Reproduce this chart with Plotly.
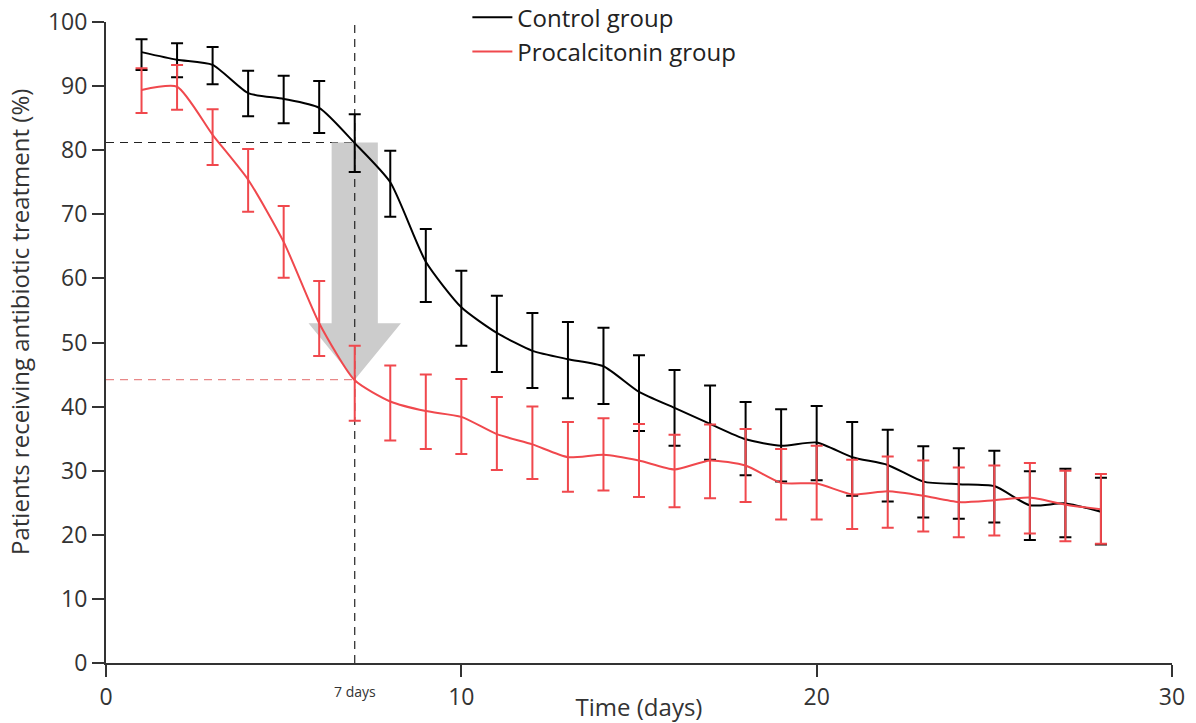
import plotly.graph_objects as go

days = list(range(1, 29))

control_mean = [95.3, 94.1, 93.3, 88.9, 88.0, 86.6, 81.1, 75.0, 62.6, 55.5,
                51.5, 48.7, 47.4, 46.3, 42.3, 39.8, 37.3, 34.9, 33.9, 34.4,
                32.1, 30.9, 28.3, 27.9, 27.6, 24.6, 24.9, 23.6]
control_upper = [97.3, 96.7, 96.1, 92.4, 91.6, 90.8, 85.6, 79.9, 67.7, 61.2,
                 57.3, 54.6, 53.2, 52.3, 48.0, 45.7, 43.3, 40.7, 39.6, 40.1,
                 37.6, 36.4, 33.8, 33.5, 33.1, 29.9, 30.3, 28.9]
control_lower = [92.5, 91.4, 90.3, 85.3, 84.2, 82.7, 76.6, 69.6, 56.3, 49.5,
                 45.4, 42.9, 41.3, 40.4, 36.2, 33.9, 31.7, 29.3, 28.3, 28.5,
                 26.1, 25.2, 22.7, 22.5, 21.9, 19.2, 19.6, 18.5]

pct_mean = [89.4, 89.9, 82.4, 75.4, 65.7, 53.0, 44.1, 40.8, 39.3, 38.4,
            35.7, 34.1, 32.1, 32.5, 31.6, 30.2, 31.6, 30.8, 28.1, 28.0,
            26.3, 26.8, 26.1, 25.1, 25.4, 25.8, 24.7, 24.0]
pct_upper = [92.8, 93.3, 86.4, 80.2, 71.3, 59.6, 49.5, 46.4, 45.0, 44.3,
             41.5, 40.0, 37.6, 38.2, 37.3, 35.6, 37.2, 36.5, 33.4, 33.9,
             31.7, 32.2, 31.6, 30.5, 30.8, 31.2, 30.0, 29.5]
pct_lower = [85.8, 86.3, 77.7, 70.4, 60.1, 47.9, 37.8, 34.7, 33.4, 32.6,
             30.1, 28.7, 26.7, 26.9, 25.9, 24.3, 25.7, 25.1, 22.4, 22.4,
             20.9, 21.1, 20.5, 19.6, 19.9, 20.2, 19.0, 18.6]

series_names = ["Control group", "Procalcitonin group"]
y_ticks = list(range(0, 101, 10))
x_ticks = [0, 10, 20, 30]
cutoff_day = 7
control_at_cutoff = 81.2
pct_at_cutoff = 44.2
y_title = "Patients receiving antibiotic treatment (%)"
x_title = "Time (days)"

BLACK = "#000000"
RED = "#f0484d"
AXIS = "#333333"
FONT = "Open Sans"

fig = go.Figure()

for name, mean, up, lo, col in [
    (series_names[0], control_mean, control_upper, control_lower, BLACK),
    (series_names[1], pct_mean, pct_upper, pct_lower, RED),
]:
    fig.add_trace(go.Scatter(
        x=days, y=mean, name=name, mode="lines",
        line=dict(color=col, width=2, shape="spline", smoothing=0.6),
        error_y=dict(type="data", symmetric=False,
                     array=[u - m for u, m in zip(up, mean)],
                     arrayminus=[m - l for m, l in zip(mean, lo)],
                     color=col, thickness=2, width=6),
    ))

shapes = [
    dict(type="line", xref="x", yref="y", x0=0, x1=cutoff_day,
         y0=control_at_cutoff, y1=control_at_cutoff,
         line=dict(color="#222222", width=1.2, dash="8px,6px"), layer="below"),
    dict(type="line", xref="x", yref="y", x0=0, x1=cutoff_day,
         y0=pct_at_cutoff, y1=pct_at_cutoff,
         line=dict(color="#e88888", width=1.2, dash="8px,6px"), layer="below"),
    dict(type="path", xref="x", yref="y",
         path=(f"M {cutoff_day-0.65},{control_at_cutoff} L {cutoff_day+0.65},{control_at_cutoff} "
               f"L {cutoff_day+0.65},53 L {cutoff_day+1.3},53 L {cutoff_day},{pct_at_cutoff} "
               f"L {cutoff_day-1.3},53 L {cutoff_day-0.65},53 Z"),
         fillcolor="#cccccc", line=dict(width=0), layer="below"),
    dict(type="line", xref="x", yref="y", x0=cutoff_day, x1=cutoff_day,
         y0=0, y1=100,
         line=dict(color="#222222", width=1.2, dash="8px,6px"), layer="below"),
]

fig.update_layout(
    width=1196, height=723,
    margin=dict(l=106, r=24, t=22, b=60, autoexpand=False),
    paper_bgcolor="white", plot_bgcolor="white",
    font=dict(family=FONT, color=AXIS, size=20),
    shapes=shapes,
    showlegend=True,
    legend=dict(x=0.339, y=1.042, xref="paper", yref="paper",
                xanchor="left", yanchor="top",
                bgcolor="rgba(0,0,0,0)", font=dict(size=24, color="#222222"),
                tracegroupgap=0, itemwidth=40),
    annotations=[
        dict(x=cutoff_day, y=0, xref="x", yref="paper",
             text="7 days", showarrow=False, yshift=-40,
             font=dict(size=14, color="#333333", family=FONT)),
        dict(x=-0.0807, y=0.532, xref="paper", yref="paper",
             text=y_title, textangle=-90, showarrow=False,
             xanchor="center", yanchor="middle",
             font=dict(size=24, color="#333333", family=FONT)),
    ],
)

fig.update_xaxes(
    range=[0, 30], tickvals=x_ticks, ticktext=[str(t) for t in x_ticks],
    showgrid=False, zeroline=False, showline=True, linecolor=AXIS, linewidth=2,
    ticks="outside", ticklen=12, tickwidth=1.5, tickcolor=AXIS, automargin=False,
    ticklabeloverflow="allow",
    tickfont=dict(size=23), title=dict(text=x_title, font=dict(size=24), standoff=0),
)
fig.update_yaxes(
    range=[0, 100], tickvals=y_ticks,
    showgrid=False, zeroline=False, showline=True, linecolor=AXIS, linewidth=2,
    ticks="outside", ticklen=12, tickwidth=1.5, tickcolor=AXIS, automargin=False,
    ticklabeloverflow="allow",
    tickfont=dict(size=23),
)

fig.write_html("out.html", config={"displayModeBar": False},
               post_script="document.body.style.margin='0px';")
